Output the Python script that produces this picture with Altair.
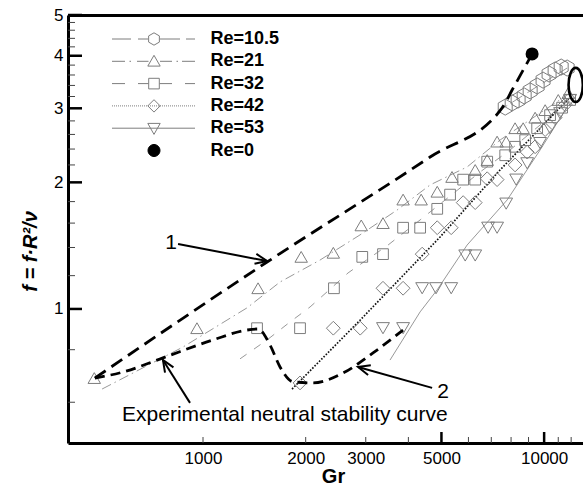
import math
import altair as alt
import pandas as pd

FONT = "Liberation Sans"

# ---------------- data (Gr, f) ----------------
re105_gr = [7690, 8060, 8390, 8740, 9100, 9540, 9930, 10340, 10770, 11220, 11680]
re105_f = [3.02, 3.09, 3.14, 3.21, 3.30, 3.39, 3.50, 3.62, 3.70, 3.76, 3.74]

re21_gr = [480, 960, 1450, 1940, 2410, 2910, 3370, 3860, 4360, 4860, 5370, 6280, 6810,
           7280, 7740, 8220, 8680, 9410, 10070, 11000, 11760]
re21_f = [0.685, 0.90, 1.12, 1.33, 1.36, 1.58, 1.60, 1.82, 1.82, 1.90, 2.06, 2.14, 2.26,
          2.50, 2.50, 2.69, 2.69, 2.85, 2.97, 3.14, 3.26]

re32_gr = [1440, 1925, 2420, 2930, 3370, 3860, 4330, 4860, 5300, 5790, 6280, 6810, 7690,
           8220, 8800, 9540, 10410, 11290, 11920]
re32_f = [0.90, 0.90, 1.12, 1.33, 1.35, 1.56, 1.56, 1.73, 1.87, 2.03, 2.03, 2.24, 2.32,
          2.43, 2.52, 2.69, 2.89, 3.01, 3.14]

re42_gr = [1925, 2410, 2890, 3370, 3860, 4390, 4860, 5340, 5790, 6280, 6810, 7280, 8220,
           8920, 9410, 10070, 10770, 11530]
re42_f = [0.667, 0.90, 0.90, 1.12, 1.12, 1.35, 1.56, 1.56, 1.79, 1.79, 2.04, 2.03, 2.20,
          2.36, 2.43, 2.67, 2.85, 3.06]

re53_gr = [3370, 3860, 4390, 4820, 5340, 5870, 6280, 6850, 7280, 7740, 8280, 8920, 9730,
           10410, 11140, 11920]
re53_f = [0.90, 0.90, 1.12, 1.12, 1.12, 1.34, 1.34, 1.56, 1.56, 1.78, 2.03, 2.22, 2.48,
          2.69, 2.92, 3.14]

re0_gr = [9220]
re0_f = [4.04]

# fitted lines of each series
l105_gr = [7280, 9100, 11680]
l105_f = [2.94, 3.30, 3.74]
l21_gr = [506, 874, 1346, 1682, 2203, 2886, 3707, 4632, 5946, 7430, 9734, 11920]
l21_f = [0.645, 0.812, 1.006, 1.159, 1.307, 1.50, 1.719, 1.972, 2.176, 2.522, 2.924, 3.263]
l32_gr = [1284, 1541, 1799, 2060, 2310, 2662, 3487, 4329, 5126, 6493, 7946, 9734, 11920]
l32_f = [0.761, 0.844, 0.931, 1.011, 1.098, 1.218, 1.419, 1.628, 1.816, 2.117, 2.388, 2.738, 3.105]
l42_gr = [1824, 2886, 4955, 7430, 11920]
l42_f = [0.645, 0.94, 1.483, 2.141, 3.192]
l53_gr = [3534, 4329, 4856, 5946, 7790, 9734, 11681]
l53_f = [0.756, 0.984, 1.110, 1.419, 1.816, 2.388, 3.022]

# curve 1 (upper bound) and curve 2 (experimental neutral stability curve)
c1_gr = [482, 1541, 4632, 7532, 8056, 9222]
c1_f = [0.685, 1.293, 2.298, 3.006, 3.316, 4.04]
c2_gr = [482, 583, 763, 1070, 1346, 1450, 1572, 1682, 1836, 2102, 2573, 3151, 3859]
c2_f = [0.685, 0.708, 0.765, 0.844, 0.891, 0.896, 0.821, 0.728, 0.671, 0.667, 0.704, 0.786, 0.891]

# highlighted region (ellipse)
ell_gr = [12375]
ell_f = [3.41]

# arrows: tail -> tip
arr_gr = [845, 916, 4695]
arr_f = [1.427, 0.598, 0.649]
arr_gr2 = [1541, 763, 2848]
arr_f2 = [1.30, 0.756, 0.728]
arr_angle = [10.8, 237.9, 195.8]

# annotation texts
num_text = ["1", "2"]
num_gr = [806, 5056]
num_f = [1.435, 0.635]
note_text = ["Experimental neutral stability curve"]
note_gr = [579]
note_f = [0.56]

series_names = ["Re=10.5", "Re=21", "Re=32", "Re=42", "Re=53", "Re=0"]

x_label_values = [1000, 2000, 3000, 5000, 10000]
x_major_ticks = [5000, 10000]
x_minor_ticks = [1000, 2000, 3000, 4000, 6000, 7000, 8000, 9000, 11000, 12000]
y_label_values = [1, 2, 3, 4, 5]
y_minor_ticks = [0.6, 0.8, 1.2, 1.4, 1.6, 1.8, 2.2, 2.4, 2.6, 2.8, 3.2, 3.4, 3.6, 3.8,
                 4.2, 4.4, 4.6, 4.8]

X_DOMAIN = [402, 13000]
Y_DOMAIN = [0.48, 5]

# ---------------- styles ----------------
GRAY = "#7d7d7d"
LGRAY = "#8c8c8c"
HEX = "M0,-1L0.866,-0.5L0.866,0.5L0,1L-0.866,0.5L-0.866,-0.5Z"
ELLIPSE = "M0,-1A0.42,1 0 1,1 0,1A0.42,1 0 1,1 0,-1Z"
ARROWHEAD = "M-1,-0.42L0,0L-1,0.42"
PLOT_W, PLOT_H = 515, 428
X_PX_PER_DEC = PLOT_W / math.log10(X_DOMAIN[1] / X_DOMAIN[0])
Y_PX_PER_DEC = PLOT_H / math.log10(Y_DOMAIN[1] / Y_DOMAIN[0])


def seg(a, b):
    return f"M{a:.2f},0L{b:.2f},0"


def hexagon(r):
    return (f"M0,{-r:.3f}L{0.866*r:.3f},{-0.5*r:.3f}L{0.866*r:.3f},{0.5*r:.3f}"
            f"L0,{r:.3f}L{-0.866*r:.3f},{0.5*r:.3f}L{-0.866*r:.3f},{-0.5*r:.3f}Z")


leg_paths = [
    seg(-4.2, -2.3) + seg(-1.6, -0.6) + hexagon(0.62) + seg(0.6, 2.6) + seg(3.2, 4.1),
    seg(-4.2, -2.9) + seg(-2.45, -2.3) + seg(-1.7, -0.55)
    + "M0,-0.6L0.62,0.48L-0.62,0.48Z" + seg(0.6, 1.8) + seg(2.25, 2.4) + seg(2.8, 4.1),
    seg(-4.2, -2.9) + seg(-1.6, -0.55) + "M-0.53,-0.53L0.53,-0.53L0.53,0.53L-0.53,0.53Z"
    + seg(0.55, 1.8) + seg(3.1, 4.1),
    "".join(seg(-4.2 + 0.2 * i, -4.1 + 0.2 * i) for i in range(42))
    + "M-0.62,0L0,-0.62L0.62,0L0,0.62Z",
    seg(-4.2, 4.1) + "M0,0.62L0.62,-0.48L-0.62,-0.48Z",
    "M0.6,0A0.6,0.6 0 1,1 -0.6,0A0.6,0.6 0 1,1 0.6,0Z",
]
leg_fills = ["transparent"] * 5 + ["black"]
leg_strokes = [GRAY] * 5 + ["black"]

xs = alt.Scale(type="log", domain=X_DOMAIN, nice=False)
ys = alt.Scale(type="log", domain=Y_DOMAIN, nice=False)

ax_x_labels = alt.Axis(orient="bottom", values=x_label_values, format="d", ticks=False,
                       tickSize=0, domain=True, domainColor="black", domainWidth=3,
                       labelFont=FONT, labelFontSize=17, labelColor="black", labelPadding=7,
                       labelOverlap=False, grid=False, title="Gr", titleFont=FONT,
                       titleFontSize=20, titleFontWeight="bold", titleColor="black",
                       titleX=265, titleY=33, titleBaseline="middle", titleAlign="center")
ax_x_top = alt.Axis(orient="top", offset=0, labels=False, ticks=False, domain=True,
                    domainColor="black", domainWidth=3, grid=False, title=None)

ax_y_labels = alt.Axis(orient="left", values=y_label_values, format="d", ticks=False,
                       tickSize=0, domain=True, domainColor="black", domainWidth=3,
                       labelFont=FONT, labelFontSize=17, labelColor="black", labelPadding=5,
                       labelOverlap=False, grid=False, title="f = f·R²/ν", titleFont=FONT,
                       titleFontSize=20, titleFontWeight="bold", titleFontStyle="italic",
                       titleColor="black", titleAngle=270, titleX=-38, titleY=236,
                       titleBaseline="middle", titleAlign="center")


def xy(chart, xaxis=None, yaxis=None, order=False):
    e = dict(x=alt.X("Gr:Q", scale=xs, axis=xaxis), y=alt.Y("f:Q", scale=ys, axis=yaxis))
    if order:
        e["order"] = alt.Order("o:Q")
    return chart.encode(**e)


def ldf(gr, f):
    return pd.DataFrame({"Gr": gr, "f": f, "o": list(range(len(gr)))})


def pdf(gr, f):
    return pd.DataFrame({"Gr": gr, "f": f})


def tick_lines(values, length_px, along):
    """two-point polylines starting on an axis line at each tick value"""
    rows = []
    for i, v in enumerate(values):
        if along == "y":
            end = X_DOMAIN[0] * 10 ** (length_px / X_PX_PER_DEC)
            rows += [{"Gr": X_DOMAIN[0], "f": v, "k": i, "o": 0},
                     {"Gr": end, "f": v, "k": i, "o": 1}]
        else:
            end = Y_DOMAIN[0] * 10 ** (length_px / Y_PX_PER_DEC)
            rows += [{"Gr": v, "f": Y_DOMAIN[0], "k": i, "o": 0},
                     {"Gr": v, "f": end, "k": i, "o": 1}]
    return pd.DataFrame(rows)


layers = []

# series lines
layers.append(xy(alt.Chart(ldf(l105_gr, l105_f)).mark_line(
    color=LGRAY, strokeWidth=0.9, strokeDash=[12, 6]), order=True))
layers.append(xy(alt.Chart(ldf(l21_gr, l21_f)).mark_line(
    color=LGRAY, strokeWidth=0.9, strokeDash=[10, 4, 1.5, 4]), order=True))
layers.append(xy(alt.Chart(ldf(l32_gr, l32_f)).mark_line(
    color=LGRAY, strokeWidth=0.9, strokeDash=[8, 9]), order=True))
layers.append(xy(alt.Chart(ldf(l42_gr, l42_f)).mark_line(
    color="#111111", strokeWidth=1.7, strokeDash=[1.6, 1.6]), order=True))
layers.append(xy(alt.Chart(ldf(l53_gr, l53_f)).mark_line(
    color=LGRAY, strokeWidth=0.9), order=True))

# inward axis ticks
for vals, ln, w, col, along in [(y_label_values, 14, 2.5, "black", "y"),
                                (y_minor_ticks, 7, 1, "#444444", "y"),
                                (x_major_ticks, 11, 2.5, "black", "x"),
                                (x_minor_ticks, 6, 1, "#444444", "x")]:
    layers.append(alt.Chart(tick_lines(vals, ln, along)).mark_line(
        color=col, strokeWidth=w, strokeCap="butt", clip=False).encode(
        x=alt.X("Gr:Q", scale=xs, axis=None), y=alt.Y("f:Q", scale=ys, axis=None),
        detail="k:N", order="o:Q"))

# markers
for gr, f, shp, sz in [(re105_gr, re105_f, HEX, 260), (re21_gr, re21_f, "triangle-up", 155),
                       (re32_gr, re32_f, "square", 115), (re42_gr, re42_f, "diamond", 190),
                       (re53_gr, re53_f, "triangle-down", 165)]:
    layers.append(xy(alt.Chart(pdf(gr, f)).mark_point(
        shape=shp, size=sz, filled=False, color=GRAY, strokeWidth=1, opacity=1)))

# thick curves
layers.append(xy(alt.Chart(ldf(c1_gr, c1_f)).mark_line(
    color="black", strokeWidth=2.8, strokeDash=[13, 7], interpolate="monotone"),
    xaxis=ax_x_labels, yaxis=ax_y_labels, order=True))
layers.append(xy(alt.Chart(ldf(c2_gr, c2_f)).mark_line(
    color="black", strokeWidth=2.8, strokeDash=[10, 6], interpolate="monotone"),
    order=True))

# Re=0 point
layers.append(xy(alt.Chart(pdf(re0_gr, re0_f)).mark_point(
    shape="circle", size=170, filled=True, color="black", opacity=1), xaxis=ax_x_top))

# ellipse
layers.append(xy(alt.Chart(pdf(ell_gr, ell_f)).mark_point(
    shape=ELLIPSE, size=1156, filled=False, color="black", strokeWidth=2.6, opacity=1)))

# arrows
arr = pd.DataFrame({"Gr": arr_gr, "f": arr_f, "Gr2": arr_gr2, "f2": arr_f2, "ang": arr_angle})
layers.append(alt.Chart(arr).mark_rule(color="black", strokeWidth=2).encode(
    x=alt.X("Gr:Q", scale=xs, axis=None), y=alt.Y("f:Q", scale=ys, axis=None),
    x2="Gr2:Q", y2="f2:Q"))
layers.append(alt.Chart(arr).mark_point(
    shape=ARROWHEAD, size=560, filled=False, color="black", strokeWidth=2, opacity=1).encode(
    x=alt.X("Gr2:Q", scale=xs, axis=None), y=alt.Y("f2:Q", scale=ys, axis=None),
    angle=alt.Angle("ang:Q", scale=None)))

# texts
layers.append(alt.Chart(pd.DataFrame({"t": num_text, "Gr": num_gr, "f": num_f})).mark_text(
    font=FONT, fontSize=21, color="black", align="center", baseline="middle").encode(
    x=alt.X("Gr:Q", scale=xs, axis=None), y=alt.Y("f:Q", scale=ys, axis=None), text="t:N"))
layers.append(alt.Chart(pd.DataFrame({"t": note_text, "Gr": note_gr, "f": note_f})).mark_text(
    font=FONT, fontSize=21, color="black", align="left", baseline="middle").encode(
    x=alt.X("Gr:Q", scale=xs, axis=None), y=alt.Y("f:Q", scale=ys, axis=None), text="t:N"))

# legend (built by Vega-Lite from the series names)
leg = alt.Legend(orient="none", legendX=75.5, legendY=13.5, title=None, symbolSize=400,
                 symbolStrokeWidth=1, labelFont=FONT, labelFontSize=18, labelFontWeight="bold",
                 labelColor="black", labelOffset=46, rowPadding=2.3, padding=0)
layers.append(alt.Chart(pd.DataFrame({"Re": series_names})).mark_point(opacity=1).encode(
    shape=alt.Shape("Re:N", scale=alt.Scale(domain=series_names, range=leg_paths), legend=leg),
    fill=alt.Fill("Re:N", scale=alt.Scale(domain=series_names, range=leg_fills), legend=leg),
    stroke=alt.Stroke("Re:N", scale=alt.Scale(domain=series_names, range=leg_strokes), legend=leg),
).transform_filter("false"))

chart = alt.layer(*layers).resolve_axis(x="independent", y="independent").properties(
    width=PLOT_W, height=PLOT_H,
    autosize=alt.AutoSizeParams(type="none"),
    padding={"left": 68, "top": 15, "right": 0, "bottom": 43},
    background="white",
).configure_view(stroke=None)

chart.save("out.html", embed_options={"renderer": "svg", "actions": False})
